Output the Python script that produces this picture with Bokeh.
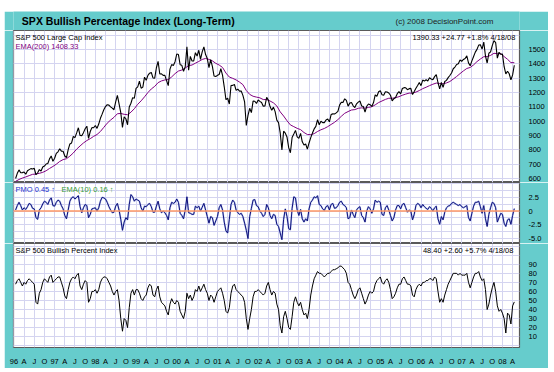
from bokeh.plotting import figure
from bokeh.layouts import column, row
from bokeh.models import Range1d, FixedTicker, Label, Span, Spacer
from bokeh.embed import file_html
from bokeh.resources import INLINE

# ---------------- data ----------------
YEARS = list(range(1996, 2009))
QUARTER_LETTERS = ["A", "J", "O"]

# S&P 500, twice a month (mid-month, month-end), Jan 1996 .. 18 Apr 2008
SPX = [
    600, 636, 660, 640, 641, 645, 630, 654, 662, 669, 666, 671, 626, 640, 662, 652, 680, 687, 701, 705, 737, 757, 720, 741,
    775, 786, 808, 791, 790, 757, 745, 801, 841, 848, 893, 885, 918, 954, 900, 899, 920, 947, 965, 880, 928, 955, 954, 970,
    950, 980, 1020, 1049, 1080, 1102, 1115, 1112, 1100, 1091, 1080, 1134, 1180, 1121, 1060, 957, 1030, 1017, 975, 1099, 1125, 1164, 1160, 1229,
    1240, 1280, 1230, 1238, 1307, 1286, 1320, 1335, 1340, 1302, 1300, 1373, 1418, 1329, 1330, 1320, 1320, 1283, 1248, 1363, 1395, 1389, 1415, 1469,
    1465, 1394, 1390, 1348, 1380, 1520, 1356, 1452, 1420, 1421, 1478, 1455, 1495, 1431, 1484, 1518, 1465, 1437, 1374, 1429, 1382, 1315, 1312, 1320,
    1326, 1366, 1320, 1240, 1150, 1160, 1120, 1249, 1250, 1256, 1215, 1224, 1210, 1211, 1180, 1134, 970, 1041, 1090, 1060, 1140, 1139, 1124, 1148,
    1138, 1130, 1104, 1107, 1166, 1147, 1102, 1077, 1098, 1067, 1007, 990, 918, 800, 930, 916, 889, 815, 780, 886, 910, 936, 890, 880,
    915, 856, 834, 841, 805, 848, 885, 917, 946, 964, 1010, 975, 1000, 990, 990, 1008, 1015, 996, 1046, 1051, 1050, 1058, 1068, 1112,
    1132, 1131, 1156, 1145, 1105, 1126, 1130, 1107, 1095, 1121, 1133, 1141, 1106, 1102, 1064, 1104, 1120, 1115, 1103, 1130, 1183, 1174, 1205, 1212,
    1184, 1181, 1206, 1204, 1197, 1181, 1142, 1157, 1165, 1192, 1206, 1191, 1228, 1234, 1233, 1220, 1227, 1229, 1186, 1207, 1230, 1249, 1270, 1248,
    1287, 1280, 1289, 1281, 1303, 1295, 1289, 1311, 1325, 1270, 1225, 1270, 1236, 1277, 1285, 1304, 1319, 1336, 1366, 1378, 1396, 1401, 1427, 1418,
    1431, 1438, 1456, 1407, 1387, 1421, 1452, 1482, 1501, 1531, 1533, 1503, 1552, 1455, 1406, 1474, 1484, 1527, 1562, 1549, 1440, 1481, 1467, 1468,
    1380, 1330, 1349, 1331, 1288, 1323, 1390.33,
]

# EMA(200) of the S&P 500, one value per month (mid-month)
EMA200 = [
    580, 593, 603, 611, 620, 629, 631, 636, 643, 654, 670, 684,
    700, 719, 732, 738, 756, 778, 805, 827, 848, 865, 878, 894,
    907, 928, 957, 986, 1008, 1027, 1052, 1054, 1048, 1045, 1063, 1087,
    1118, 1142, 1170, 1200, 1225, 1243, 1269, 1281, 1288, 1290, 1309, 1332,
    1350, 1357, 1371, 1388, 1392, 1405, 1417, 1431, 1438, 1431, 1421, 1404,
    1392, 1375, 1336, 1308, 1299, 1288, 1273, 1255, 1214, 1187, 1174, 1168,
    1163, 1151, 1151, 1141, 1128, 1106, 1065, 1036, 1003, 974, 962, 950,
    941, 921, 907, 906, 913, 928, 940, 949, 962, 977, 992, 1011,
    1034, 1055, 1067, 1078, 1081, 1090, 1093, 1091, 1096, 1101, 1114, 1130,
    1141, 1152, 1160, 1160, 1164, 1171, 1181, 1189, 1196, 1196, 1203, 1214,
    1227, 1237, 1248, 1258, 1266, 1263, 1261, 1267, 1277, 1294, 1312, 1332,
    1351, 1368, 1375, 1393, 1416, 1434, 1450, 1451, 1459, 1474, 1471, 1472,
    1451, 1432, 1409, 1408.33,
]

# Price Momentum Oscillator, twice a month
PMO = [
    0.2, 1.0, 1.6, 1.0, 0.2, 0.6, 0.3, 0.8, 1.4, 1.2, 0.5, 0.4, -1.2, -1.5, 0.2, 0.6, 1.3, 1.8, 1.6, 1.2, 2.0, 2.4, 1.0, 0.9,
    1.6, 2.0, 1.8, 1.0, 0.4, -0.8, -1.4, 0.2, 1.8, 2.4, 2.6, 2.2, 2.5, 2.8, 0.8, -0.3, 0.6, 1.2, 1.0, -1.2, -0.6, 0.4, 0.5, 0.6,
    0.0, 0.6, 1.8, 2.5, 2.4, 2.2, 1.6, 0.8, 0.2, -0.3, -0.2, 0.9, 1.4, 0.2, -1.5, -3.5, -2.0, -1.2, -1.6, 1.2, 3.0, 2.6, 1.8, 2.2,
    2.0, 1.8, 0.6, 0.0, 0.9, 0.8, 1.2, 1.4, 0.8, -0.2, -0.2, 0.9, 1.8, 0.4, -0.3, 0.0, -0.3, -0.8, -1.6, 0.6, 1.6, 1.4, 1.6, 2.2,
    1.6, -0.4, -0.8, -1.4, 0.2, 2.6, -0.3, -0.4, -0.6, -0.6, 0.9, 0.6, 0.9, 0.0, 0.7, 1.4, 0.2, -1.0, -2.2, -1.0, -1.2, -2.6, -1.8, -1.0,
    0.6, 1.2, 0.2, -2.0, -3.6, -4.0, -1.5, 1.2, 2.0, 1.6, 0.2, -0.3, -0.6, -0.4, -1.0, -2.2, -3.5, -5.0, -1.0, 0.5, 2.0, 2.1, 1.0, 0.8,
    0.0, -0.4, -1.0, -0.6, 1.2, 0.6, -0.8, -1.4, -0.6, -0.8, -2.4, -2.8, -4.0, -5.2, -1.5, 0.4, -1.0, -3.2, -3.4, 0.5, 2.6, 2.4, 0.2, -0.8,
    0.3, -1.4, -2.0, -1.4, -1.8, 0.4, 1.6, 2.0, 2.6, 2.4, 2.8, 1.2, 1.0, 0.4, 0.1, 0.8, 1.0, 0.2, 1.2, 1.4, 0.5, 0.6, 1.0, 1.6,
    1.8, 1.2, 1.0, 0.6, -1.4, -1.2, 0.2, -0.6, -1.2, 0.2, 0.6, 0.8, -0.8, -1.2, -2.0, 0.0, 0.8, 0.4, -0.4, 0.4, 2.0, 1.6, 1.8, 1.6,
    -0.6, -0.8, 0.6, 1.0, 0.2, -0.8, -1.8, -1.2, 0.2, 1.0, 1.0, 0.4, 1.2, 1.4, 0.6, -0.2, 0.2, 0.0, -1.6, -0.6, 1.0, 1.4, 1.2, 0.6,
    1.2, 0.8, 0.5, 0.3, 0.8, 0.5, 0.0, 0.6, 0.9, -1.4, -2.4, -1.0, -1.6, -0.2, 0.6, 0.9, 1.0, 1.4, 1.6, 1.4, 1.2, 1.0, 1.2, 0.8,
    0.6, 0.8, 1.0, -1.2, -1.8, -0.4, 0.9, 1.6, 1.6, 1.8, 0.8, -0.4, 1.0, -1.4, -2.8, -0.6, 0.6, 1.6, 1.4, 0.6, -2.0, -1.2, -0.4, -0.6,
    -2.2, -2.8, -1.6, -1.4, -2.4, -0.8, 0.45,
]

# S&P 500 Bullish Percent Index, twice a month
BPI = [
    68, 72, 74, 70, 66, 70, 68, 72, 74, 72, 70, 68, 48, 46, 58, 62, 70, 74, 72, 70, 76, 78, 70, 72,
    74, 76, 76, 70, 64, 55, 52, 62, 70, 74, 76, 74, 78, 80, 66, 62, 68, 72, 70, 48, 52, 60, 60, 62,
    58, 62, 70, 74, 76, 76, 74, 70, 66, 60, 56, 60, 62, 50, 30, 16, 30, 28, 20, 42, 58, 62, 56, 62,
    62, 58, 52, 50, 54, 56, 64, 68, 66, 56, 54, 62, 66, 54, 48, 46, 44, 38, 34, 46, 52, 48, 46, 50,
    48, 38, 34, 30, 38, 58, 52, 56, 50, 54, 62, 60, 66, 60, 64, 68, 62, 58, 50, 56, 54, 48, 54, 60,
    62, 64, 58, 50, 38, 36, 42, 58, 66, 68, 62, 60, 58, 56, 54, 48, 30, 18, 30, 40, 54, 60, 60, 62,
    60, 58, 56, 58, 66, 70, 62, 56, 60, 58, 46, 40, 22, 14, 32, 38, 30, 20, 18, 32, 48, 54, 48, 44,
    48, 40, 34, 36, 30, 40, 56, 66, 74, 78, 82, 80, 80, 78, 76, 78, 80, 80, 82, 84, 84, 85, 86, 88,
    88, 86, 84, 80, 70, 68, 62, 56, 52, 56, 62, 64, 58, 52, 46, 50, 56, 60, 58, 60, 68, 72, 74, 76,
    70, 68, 72, 74, 70, 62, 52, 54, 58, 64, 68, 68, 74, 76, 72, 68, 68, 66, 56, 54, 62, 66, 68, 66,
    70, 70, 72, 72, 74, 74, 72, 76, 74, 60, 48, 52, 48, 56, 62, 68, 72, 76, 80, 80, 80, 78, 80, 78,
    78, 78, 80, 70, 64, 70, 76, 80, 80, 82, 76, 72, 74, 62, 40, 46, 56, 64, 70, 60, 44, 38, 40, 36,
    30, 14, 36, 34, 24, 44, 48.4,
]

TOP_TICKS = [600, 700, 800, 900, 1000, 1100, 1200, 1300, 1400, 1500]
PMO_TICKS = [2.5, 0, -2.5, -5.0]
PMO_TICK_LABELS = ["2.5", "0", "-2.5", "-5.0"]
BPI_TICKS = [10, 20, 30, 40, 50, 60, 70, 80, 90]

TITLE = "SPX Bullish Percentage Index (Long-Term)"
COPYRIGHT = "(c) 2008 DecisionPoint.com"
TOP_LEFT = "S&P 500 Large Cap Index"
EMA_TEXT = "EMA(200) 1408.33"
TOP_RIGHT = "1390.33 +24.77 +1.8%  4/18/08"
PMO_TEXT = "PMO  0.45 \u2191"
PMO_EMA_TEXT = "EMA(10)  0.16 \u2191"
BPI_LEFT = "S&P 500 Bullish Percent Index"
BPI_RIGHT = "48.40 +2.60 +5.7%  4/18/08"

# ---------------- styling ----------------
FONT = "Liberation Sans"
TEAL = "#66cccc"
GRID = "#d4d4f0"
FRAME = "#5a5a5a"
SMALL = "7.5px"
W = 544          # teal box width
BL, BR = 9, 27   # side borders -> frame width 508
HDR_H = 19

# x in months since 1 Jan 1996
spx_x = [(i + 1) / 2 for i in range(len(SPX))]
ema_x = [k + 0.5 for k in range(len(EMA200))]
pmo_x = [(i + 1) / 2 for i in range(len(PMO))]
bpi_x = [(i + 1) / 2 for i in range(len(BPI))]

q_ticks = []
q_labels = {}
for yi, yr in enumerate(YEARS):
    base = 12 * yi
    for qi, lab_txt in enumerate([f"{yr % 100:02d}"] + QUARTER_LETTERS):
        t = base + 3 * qi
        if t <= spx_x[-1]:
            q_ticks.append(t)
            q_labels[t] = lab_txt

X0, X1 = -0.12, 149.03
xr = Range1d(X0, X1)


def make_fig(height, y0, y1, top, bottom, with_xaxis=False):
    p = figure(width=W, height=height, x_range=xr, y_range=Range1d(y0, y1),
               title=None, output_backend="svg", toolbar_location=None,
               x_axis_location="below" if with_xaxis else None,
               y_axis_location="right",
               min_border_left=BL, min_border_right=BR,
               min_border_top=top, min_border_bottom=bottom,
               background_fill_color="white", border_fill_color=TEAL,
               outline_line_color=FRAME, outline_line_width=1.2)
    p.xgrid.ticker = FixedTicker(ticks=q_ticks)
    p.xgrid.grid_line_color = GRID
    p.ygrid.grid_line_color = GRID
    ax = p.yaxis[0]
    ax.axis_line_color = None
    ax.major_tick_line_color = None
    ax.minor_tick_line_color = None
    ax.major_label_standoff = 3
    ax.major_label_text_font = FONT
    ax.major_label_text_font_size = SMALL
    ax.major_label_text_color = "black"
    if with_xaxis:
        xa = p.xaxis[0]
        xa.ticker = FixedTicker(ticks=q_ticks)
        xa.major_label_overrides = q_labels
        xa.axis_line_color = None
        xa.major_tick_line_color = None
        xa.minor_tick_line_color = None
        xa.major_label_standoff = 3
        xa.major_label_text_font = FONT
        xa.major_label_text_font_size = SMALL
        xa.major_label_text_color = "black"
    return p


def lab(p, text, x, y, xo, yo, align, baseline, color="black", size=SMALL, style="normal"):
    p.add_layout(Label(x=x, y=y, x_offset=xo, y_offset=yo, text=text,
                       text_align=align, text_baseline=baseline,
                       text_font=FONT, text_font_size=size,
                       text_font_style=style, text_color=color))


# ---- header strip with title and copyright
hdr = figure(width=W, height=HDR_H, x_range=Range1d(0, W), y_range=Range1d(0, HDR_H),
             title=None, output_backend="svg", toolbar_location=None,
             x_axis_location=None, y_axis_location=None, min_border=0,
             background_fill_color=TEAL, border_fill_color=TEAL, outline_line_color=None)
hdr.grid.visible = False
lab(hdr, TITLE, BL, 9.5, 0, 0, "left", "middle", size="10.5px", style="bold")
lab(hdr, COPYRIGHT, W - BR, 9.0, -1, 0, "right", "middle", color="#222222", size="8px")

# ---- top panel: S&P 500 + EMA(200)
T0, T1 = 572, 1633
p1 = make_fig(152, T0, T1, top=0, bottom=0)
p1.yaxis.ticker = FixedTicker(ticks=TOP_TICKS)
p1.ygrid.ticker = FixedTicker(ticks=list(range(600, 1700, 100)))
p1.line(ema_x, EMA200, line_color="#800080", line_width=1)
p1.line(spx_x, SPX, line_color="black", line_width=1.1)
lab(p1, TOP_LEFT, X0, T1, 2, -2, "left", "top")
lab(p1, EMA_TEXT, X0, T1, 2, -11, "left", "top", color="#800080")
lab(p1, TOP_RIGHT, X1, T1, -2, -2, "right", "top")

# ---- middle panel: PMO
M0, M1 = -5.9, 5.2
p2 = make_fig(61, M0, M1, top=0, bottom=0)
p2.yaxis.ticker = FixedTicker(ticks=PMO_TICKS)
p2.yaxis.major_label_overrides = dict(zip(PMO_TICKS, PMO_TICK_LABELS))
p2.ygrid.ticker = FixedTicker(ticks=[-5, -3.75, -2.5, -1.25, 0, 1.25, 2.5, 3.75, 5])
p2.add_layout(Span(location=0, dimension="width", line_color="#ff9966", line_width=1.5))
p2.line(pmo_x, PMO, line_color="#6688dd", line_width=1.8, line_alpha=0.45)
p2.line(pmo_x, PMO, line_color="#10107a", line_width=1)
lab(p2, PMO_TEXT, X0, M1, 2, -2, "left", "top", color="#2233cc")
lab(p2, PMO_EMA_TEXT, X0, M1, 48, -2, "left", "top", color="#339933")

# ---- bottom panel: Bullish Percent
B0, B1 = -2, 113
p3 = make_fig(125, B0, B1, top=0, bottom=16, with_xaxis=True)
p3.yaxis.ticker = FixedTicker(ticks=BPI_TICKS)
p3.ygrid.ticker = FixedTicker(ticks=list(range(0, 111, 10)))
p3.line(bpi_x, BPI, line_color="black", line_width=1)
lab(p3, BPI_LEFT, X0, B1, 2, -2, "left", "top")
lab(p3, BPI_RIGHT, X1, B1, -4, -2, "right", "top")

stack = column(hdr, p1, p2, p3, spacing=0)
layout = column(Spacer(width=W + 4, height=30 - HDR_H),
                row(Spacer(width=4, height=10), stack, spacing=0),
                spacing=0)
open("out.html", "w").write(file_html(layout, INLINE))
